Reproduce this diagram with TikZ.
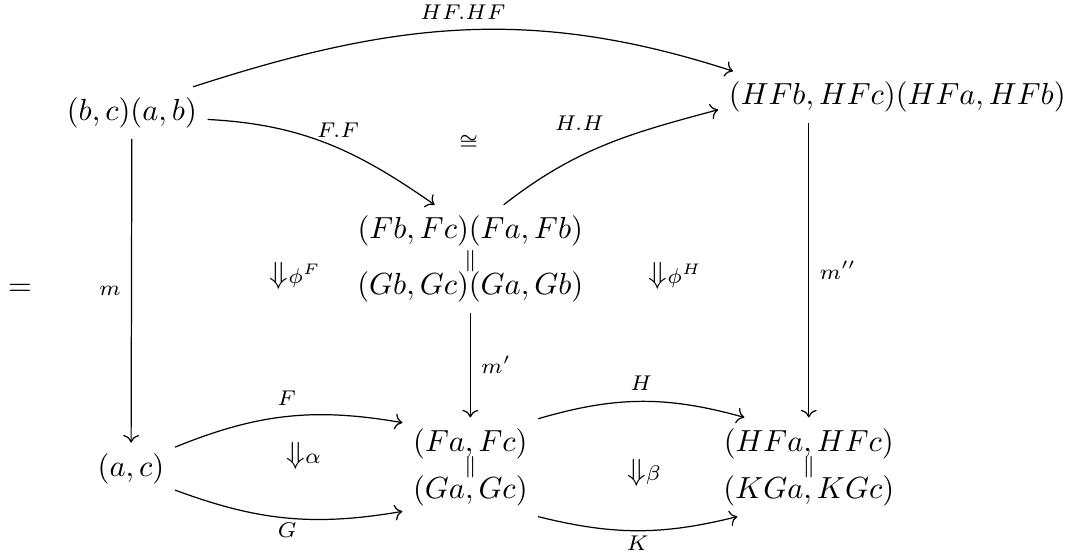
\documentclass[tikz,border=0pt]{standalone}
\usepackage{amsmath}
\usepackage{tikz}
\usetikzlibrary{arrows.meta,positioning,calc}
\tikzset{
    diagCell/.style={
        inner sep=0.333em
    },
    diagLabel/.style={
        font=\scriptsize
    },
    diagArrow/.style={
        -{To}
    },
    diagEq/.style={
        font=\scriptsize,
        inner sep=0pt
    },
    diagTwoCell/.style={
        inner sep=1pt
    }
}
\begin{document}
\begin{tikzpicture}
    \useasboundingbox (0,0) rectangle (12.48,-6.38);

    \node (eqs) at (0.23,-3.34) {$=$};

    \node[diagCell] (bcab) at (1.52,-1.30) {$(b,c)(a,b)$};
    \node[diagCell] (hfhf) at (10.34,-1.12) {$(HFb,HFc)(HFa,HFb)$};
    \node[diagCell] (fbfc) at (5.42,-2.66) {$(Fb,Fc)(Fa,Fb)$};
    \node[diagCell,below=1.3pt of fbfc] (gbgc) {$(Gb,Gc)(Ga,Gb)$};

    \node[diagCell] (ac) at (1.51,-5.40) {$(a,c)$};
    \node[diagCell] (fafc) at (5.42,-5.11) {$(Fa,Fc)$};
    \node[diagCell,below=-1.6pt of fafc] (gagc) {$(Ga,Gc)$};
    \node[diagCell] (hfa) at (9.32,-5.11) {$(HFa,HFc)$};
    \node[diagCell,below=-1.6pt of hfa] (kga) {$(KGa,KGc)$};

    % equalities between stacked objects
    \node[diagEq] (eqfb) at ($(fbfc)!0.55!(gbgc)$) {$\|$};
    \node[diagEq] (eqfa) at ($(fafc)!0.5!(gagc)$) {$\|$};
    \node[diagEq] (eqhf) at ($(hfa)!0.5!(kga)$) {$\|$};

    % 2-cells
    \node[diagLabel] (iso) at (5.40,-1.64) {$\cong$};
    \node[diagTwoCell] (phiF) at (3.40,-3.18) {${\Downarrow}{\scriptstyle\phi^F}$};
    \node[diagTwoCell] (phiH) at (7.78,-3.18) {${\Downarrow}{\scriptstyle\phi^H}$};
    \node[diagTwoCell] (alpha) at (3.50,-5.25) {${\Downarrow}{\scriptstyle\alpha}$};
    \node[diagTwoCell] (beta) at (7.42,-5.45) {${\Downarrow}{\scriptstyle\beta}$};

    \draw[diagArrow] (bcab.23) to[out=18,in=162] node[diagLabel,above] {$HF.HF$} (hfhf.171);
    \draw[diagArrow] (bcab.-5) to[out=-3,in=145] node[diagLabel,above,pos=0.55] {$F.F$} (fbfc.144);
    \draw[diagArrow] (fbfc.38) to[out=38,in=195] node[diagLabel,above left,pos=0.55] {$H.H$} (hfhf.184);

    \draw[diagArrow] (bcab) -- node[diagLabel,left] {$m$} (ac);
    \draw[diagArrow] (gbgc) -- node[diagLabel,right] {$m'$} (fafc);
    \draw[diagArrow] (hfa.north |- hfhf.south) -- node[diagLabel,right] {$m''$} (hfa.north);

    \draw[diagArrow] (ac.26) to[bend left=16] node[diagLabel,above] {$F$} (fafc.163);
    \draw[diagArrow] (ac.-26) to[bend right=15] node[diagLabel,below,inner sep=1.5pt] {$G$} (gagc.-163);
    \draw[diagArrow] (fafc.20) to[bend left=16] node[diagLabel,above] {$H$} (hfa.158);
    \draw[diagArrow] (gagc.-21) to[bend right=14] node[diagLabel,below,inner sep=1.5pt] {$K$} (kga.-160);
\end{tikzpicture}
\end{document}
